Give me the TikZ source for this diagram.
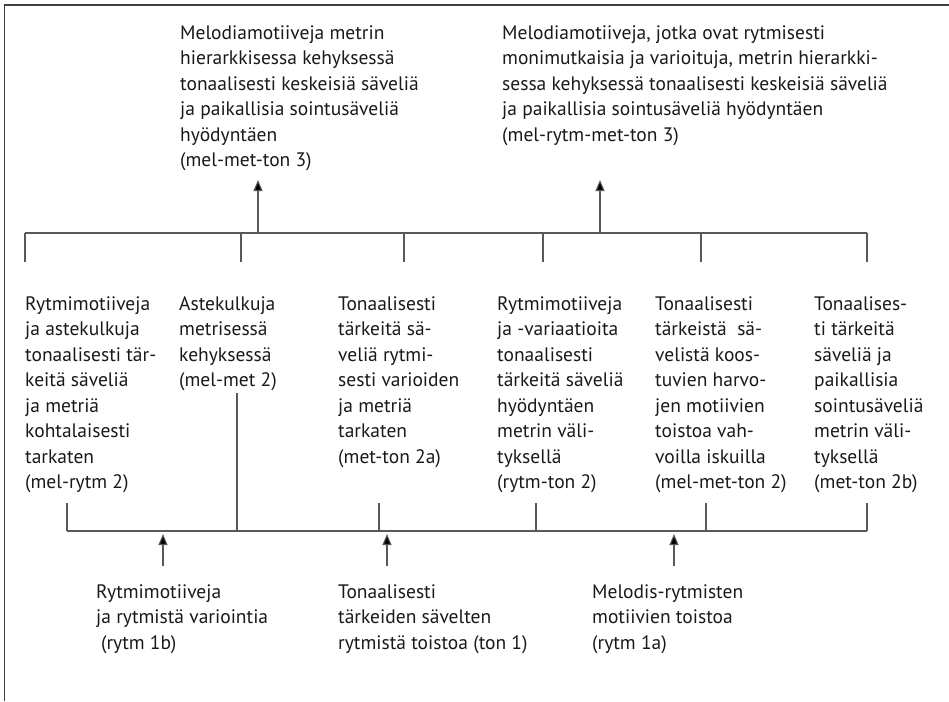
\documentclass[tikz,border=0pt]{standalone}
\usepackage{fontspec}
\setmainfont{PT Sans}
\usetikzlibrary{arrows.meta}
\begin{document}
\begin{tikzpicture}[x=1pt,y=-1pt,
  txt/.style={anchor=base west, align=left, inner sep=0pt, text=black!90,
    font=\fontsize{19.5}{25.5}\selectfont},
  ln/.style={line width=1.1pt, draw=black!65},
  frame/.style={line width=1.4pt, draw=black!75},
  arr/.style={line width=1.1pt, draw=black!65, -{Triangle[length=11pt,width=9pt,fill=black]}}]
\useasboundingbox (0,0) rectangle (949,701);
% frame
\coordinate (fbl) at (4.5,701);
\coordinate (ftl) at (4.5,5);
\coordinate (ftr) at (949,5);
\draw[frame] (fbl) -- (ftl) -- (ftr);

% top texts (anchored at the baseline of their last line)
\node[txt] (mm3) at (180,166.5) {Melodiamotiiveja metrin\\hierarkkisessa kehyksessä\\tonaalisesti keskeisiä säveliä\\ja paikallisia sointusäveliä\\hyödyntäen\\(mel-met-ton 3)};
\node[txt] (mrmt3) at (502,141) {Melodiamotiiveja, jotka ovat rytmisesti\\monimutkaisia ja varioituja, metrin hierarkki-\\sessa kehyksessä tonaalisesti keskeisiä säveliä\\ja paikallisia sointusäveliä hyödyntäen\\(mel-rytm-met-ton 3)};

% middle texts
\node[txt] (A) at (25,488.5) {Rytmimotiiveja\\ja astekulkuja\\tonaalisesti tär-\\keitä säveliä\\ja metriä\\kohtalaisesti\\tarkaten\\(mel-rytm 2)};
\node[txt] (B) at (179,386.5) {Astekulkuja\\metrisessä\\kehyksessä\\(mel-met 2)};
\node[txt] (C) at (338,463) {Tonaalisesti\\tärkeitä sä-\\veliä rytmi-\\sesti varioiden\\ja metriä\\tarkaten\\(met-ton 2a)};
\node[txt] (D) at (497,488.5) {Rytmimotiiveja\\ja -variaatioita\\tonaalisesti\\tärkeitä säveliä\\hyödyntäen\\metrin väli-\\tyksellä\\(rytm-ton 2)};
\node[txt] (E) at (655,488.5) {Tonaalisesti\\tärkeistä\ \ sä-\\velistä koos-\\tuvien harvo-\\jen motiivien\\toistoa vah-\\voilla iskuilla\\(mel-met-ton 2)};
\node[txt] (F) at (814,488.5) {Tonaalises-\\ti tärkeitä\\säveliä ja\\paikallisia\\sointusäveliä\\metrin väli-\\tyksellä\\(met-ton 2b)};

% bottom texts
\node[txt] (r1b) at (96,649) {Rytmimotiiveja\\ja rytmistä variointia\\\hspace{0.25em}(rytm 1b)};
\node[txt] (t1) at (338,649) {Tonaalisesti\\tärkeiden sävelten\\rytmistä toistoa (ton 1)};
\node[txt] (r1a) at (592,649) {Melodis-rytmisten\\motiivien toistoa\\(rytm 1a)};

% upper bar
\coordinate (ub0) at (25,233);
\coordinate (ub1) at (867,233);
\draw[ln] (ub0) -- (ub1);
\foreach \x/\n in {25/A,241/B,404/C,543/D,701/E,867/F}{
  \coordinate (ut\n) at (\x,262);
  \draw[ln] (\x,233) -- (ut\n);
}
\coordinate (ua1) at (258,233);
\coordinate (ua1t) at (258,180);
\coordinate (ua2) at (600,233);
\coordinate (ua2t) at (600,180);
\draw[arr] (ua1) -- (ua1t);
\draw[arr] (ua2) -- (ua2t);

% lower bar
\coordinate (lb0) at (67,531);
\coordinate (lb1) at (867,531);
\draw[ln] (lb0) -- (lb1);
\foreach \x/\n in {67/A,379/C,536/D,706/E,867/F}{
  \coordinate (lt\n) at (\x,503);
  \draw[ln] (lt\n) -- (\x,531);
}
\coordinate (ltB) at (237,393);
\draw[ln] (ltB) -- (237,531);
\coordinate (la1) at (163,566);
\coordinate (la1t) at (163,534);
\coordinate (la2) at (387,566);
\coordinate (la2t) at (387,534);
\coordinate (la3) at (674,566);
\coordinate (la3t) at (674,534);
\draw[arr] (la1) -- (la1t);
\draw[arr] (la2) -- (la2t);
\draw[arr] (la3) -- (la3t);
\end{tikzpicture}
\end{document}
